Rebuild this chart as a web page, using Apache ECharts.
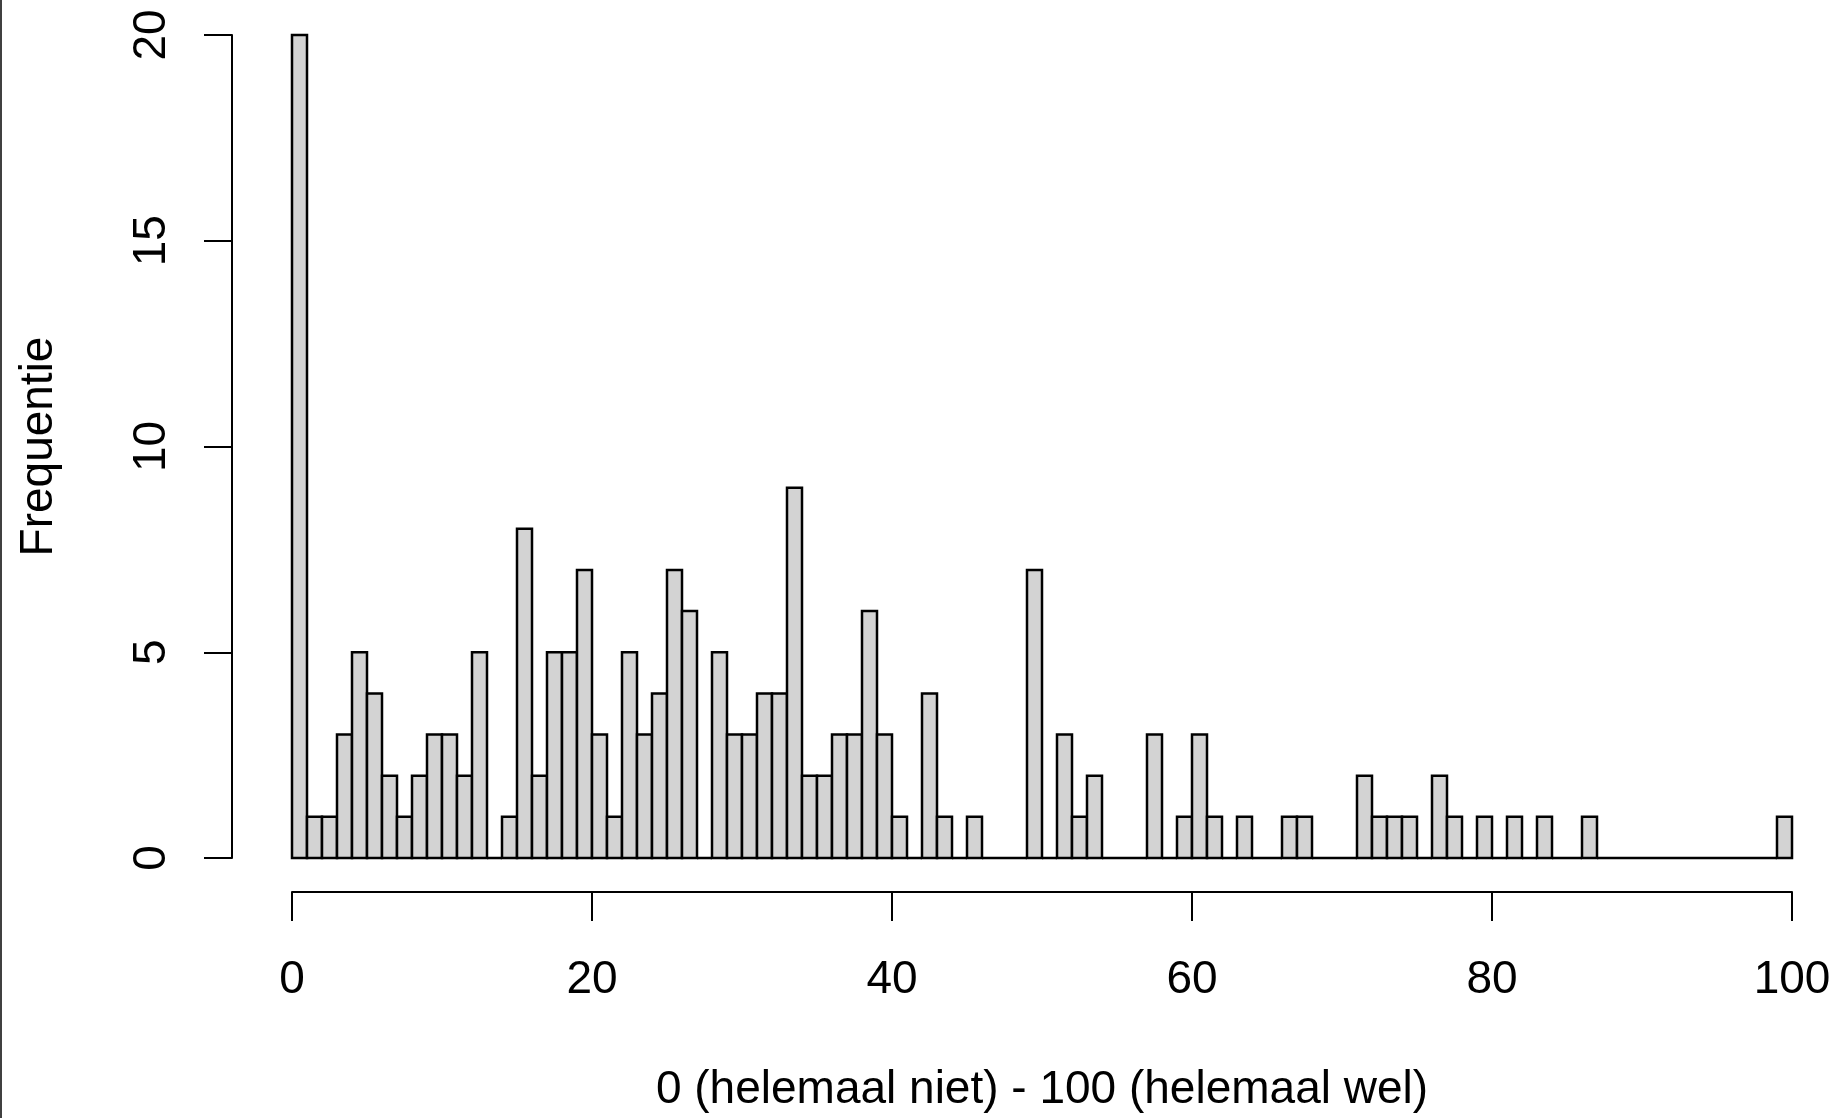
<!DOCTYPE html>
<html><head><meta charset="utf-8">
<script src="https://cdn.jsdelivr.net/npm/echarts@6/dist/echarts.min.js"></script>
<style>html,body{margin:0;padding:0;background:#fff;overflow:hidden}#c{width:1838px;height:1118px}</style>
</head><body><div id="c"></div>
<script>
const binEdges = [0,1,2,3,4,5,6,7,8,9,10,11,12,13,14,15,16,17,18,19,20,21,22,23,24,25,26,27,28,29,30,31,32,33,34,35,36,37,38,39,40,41,42,43,44,45,46,47,48,49,50,51,52,53,54,55,56,57,58,59,60,61,62,63,64,65,66,67,68,69,70,71,72,73,74,75,76,77,78,79,80,81,82,83,84,85,86,87,88,89,90,91,92,93,94,95,96,97,98,99,100];
const counts = [20,1,1,3,5,4,2,1,2,3, 3,2,5,0,1,8,2,5,5,7, 3,1,5,3,4,7,6,0,5,3, 3,4,4,9,2,2,3,3,6,3, 1,0,4,1,0,1,0,0,0,7, 0,3,1,2,0,0,0,3,0,1, 3,1,0,1,0,0,1,1,0,0, 0,2,1,1,1,0,2,1,0,1, 0,1,0,1,0,0,1,0,0,0, 0,0,0,0,0,0,0,0,0,1];
const xTicks = [0,20,40,60,80,100];
const yTicks = [0,5,10,15,20];
const xTitle = '0 (helemaal niet) - 100 (helemaal wel)';
const yTitle = 'Frequentie';

const data = counts.map((c, i) => [binEdges[i], binEdges[i + 1], c]);
const font = 'Liberation Sans, Arial, sans-serif';
const chart = echarts.init(document.getElementById('c'), null, {renderer: 'canvas'});
chart.setOption({
  animation: false,
  backgroundColor: '#fff',
  grid: {left: 292, right: 46, top: 35, bottom: 259, containLabel: false},
  xAxis: {
    type: 'value', min: xTicks[0], max: xTicks[xTicks.length - 1], interval: 20,
    offset: 34,
    axisLine: {show: true, onZero: false, lineStyle: {color: '#000', width: 2}},
    axisTick: {show: true, inside: false, length: 29, lineStyle: {color: '#000', width: 2}},
    splitLine: {show: false},
    axisLabel: {color: '#000', fontSize: 46, fontFamily: font, margin: 65},
    name: xTitle, nameLocation: 'middle', nameGap: 175,
    nameTextStyle: {color: '#000', fontSize: 46, fontFamily: font}
  },
  yAxis: {
    type: 'value', min: yTicks[0], max: yTicks[yTicks.length - 1], interval: 5,
    offset: 60,
    axisLine: {show: true, onZero: false, lineStyle: {color: '#000', width: 2}},
    axisTick: {show: true, inside: false, length: 28, lineStyle: {color: '#000', width: 2}},
    splitLine: {show: false},
    axisLabel: {color: '#000', fontSize: 46, fontFamily: font, margin: 57, rotate: 90},
    name: yTitle, nameLocation: 'middle', nameGap: 170,
    nameTextStyle: {color: '#000', fontSize: 46, fontFamily: font}
  },
  graphic: [{type: 'rect', left: 0, top: 0, shape: {width: 2, height: 1118}, style: {fill: '#404040'}}],
  series: [{
    type: 'custom',
    clip: false,
    data: data,
    encode: {x: [0, 1], y: 2},
    renderItem: function (params, api) {
      const p0 = api.coord([api.value(0), 0]);
      const p1 = api.coord([api.value(1), api.value(2)]);
      return {
        type: 'rect',
        shape: {x: p0[0], y: p1[1], width: p1[0] - p0[0], height: p0[1] - p1[1]},
        style: {fill: '#D3D3D3', stroke: '#000', lineWidth: 2.5}
      };
    }
  }]
});
</script></body></html>
